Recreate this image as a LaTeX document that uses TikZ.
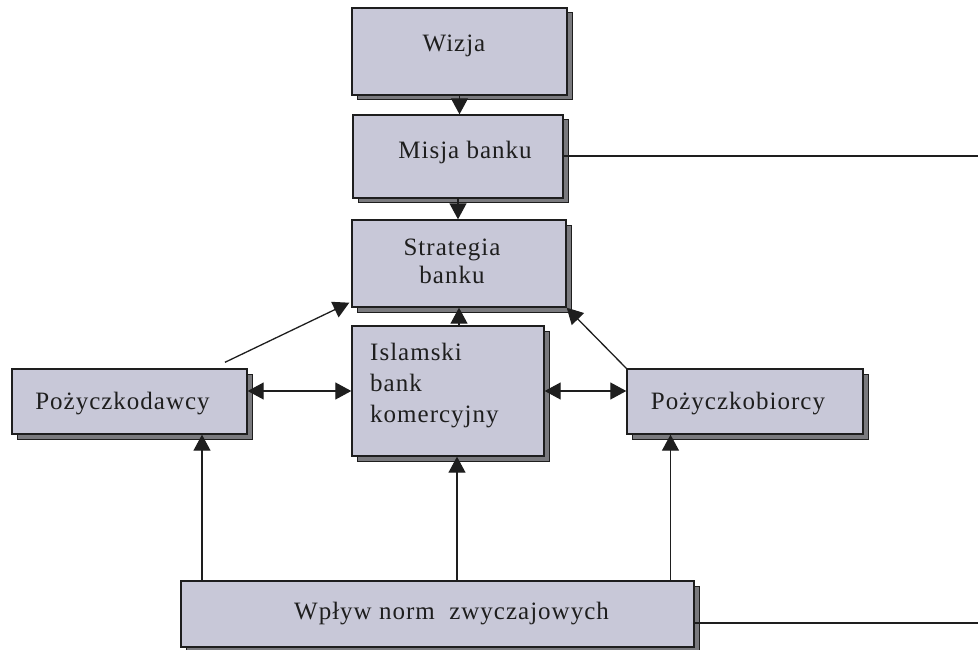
\documentclass[tikz,border=0pt]{standalone}
\usepackage{fontspec}
\setmainfont{Liberation Serif}[LetterSpace=4]
\usetikzlibrary{arrows.meta,shadows}

\definecolor{boxfill}{RGB}{200,200,216}
\definecolor{shadowgray}{RGB}{122,122,126}
\definecolor{inkline}{RGB}{30,30,30}

\tikzset{
  box/.style={draw=inkline, line width=1.4pt, fill=boxfill, inner sep=0pt,
    drop shadow={shadow xshift=5pt, shadow yshift=-5pt, opacity=1,
      fill=shadowgray, draw=inkline, line width=1pt}},
  txt/.style={inner sep=0pt, font=\fontsize{25}{31}\selectfont, text=inkline},
  link/.style={draw=inkline, line width=1.3pt},
  arr/.style={link, -{Triangle[length=16pt,width=17pt]}},
  arrs/.style={link, {Triangle[length=16pt,width=17pt]}-{Triangle[length=16pt,width=17pt]}}
}

\begin{document}
\begin{tikzpicture}[x=1pt, y=-1pt]
\useasboundingbox (0,0) rectangle (978,650);

% boxes
\node[box, minimum width=215, minimum height=87] (wizja)  at (459.5,51.5) {};
\node[box, minimum width=210, minimum height=83] (misja)  at (458,156.5) {};
\node[box, minimum width=214, minimum height=87] (strat)  at (459,263.5) {};
\node[box, minimum width=192, minimum height=130] (isl)   at (448,391) {};
\node[box, minimum width=235, minimum height=65] (dawcy)  at (129.5,401.5) {};
\node[box, minimum width=236, minimum height=65] (biorcy) at (745,401.5) {};
\node[box, minimum width=513, minimum height=66] (wplyw)  at (437.5,614) {};

% labels
\node[txt, anchor=base] (wizjat)  at (454,52)  {Wizja};
\node[txt, anchor=base] (misjat)  at (465,159) {Misja banku};
\node[txt, anchor=base] (stratt1) at (452,255) {Strategia};
\node[txt, anchor=base] (stratt2) at (452,283) {banku};
\node[txt, anchor=north west, align=left] (islt) at (370,343) {Islamski\\bank\\komercyjny};
\node[txt, anchor=base] (dawcyt)  at (122.5,409) {Pożyczkodawcy};
\node[txt, anchor=base] (biorcyt) at (738,409) {Pożyczkobiorcy};
\node[txt, anchor=base] (wplywt)  at (451.5,619) {Wpływ norm\ \ zwyczajowych};

% connector end points
\coordinate (dawcyin)  at ([xshift=72.5pt]dawcy.south);
\coordinate (biorcyin) at ([xshift=-74.5pt]biorcy.south);
\coordinate (islin)    at ([xshift=9pt]isl.south);
\coordinate (dawcyout) at ([xshift=95.5pt,yshift=6pt]dawcy.north);
\coordinate (stratsw)  at ([xshift=-2pt,yshift=5pt]strat.south west);
\coordinate (misjaend) at (978,156);
\coordinate (wplywout) at ([yshift=-9pt]wplyw.east);
\coordinate (wplywend) at (978,623);

% connectors
\draw[arr] (wizja.south) -- (wizja.south |- misja.north);
\draw[arr] (misja.south) -- (misja.south |- strat.north);
\draw[arr] (isl.north -| strat.south) -- (strat.south);
\draw[arrs] (dawcy.east |- isl.west) -- (isl.west);
\draw[arrs] (isl.east) -- (isl.east -| biorcy.west);
\draw[arr] (dawcyout) -- (stratsw);
\draw[arr] (biorcy.north west) -- (strat.south east);
\draw[arr] (wplyw.north -| dawcyin) -- (dawcyin);
\draw[arr] (wplyw.north -| islin) -- (islin);
\draw[arr] (wplyw.north -| biorcyin) -- (biorcyin);
\draw[link] (misja.east |- misjaend) -- (misjaend);
\draw[link] (wplywout) -- (wplywend);
\end{tikzpicture}
\end{document}
